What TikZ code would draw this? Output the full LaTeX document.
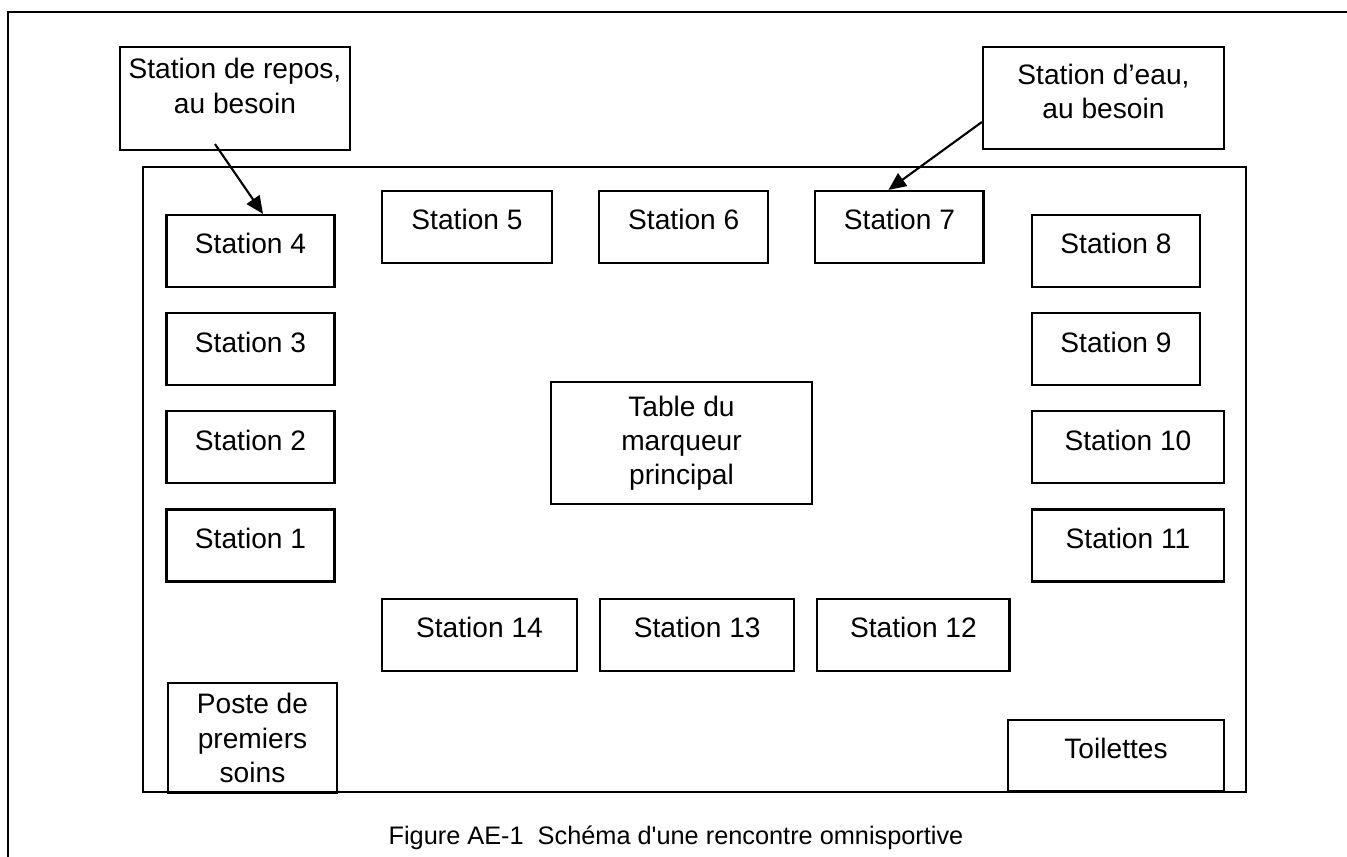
\documentclass[tikz,border=0pt]{standalone}
\usepackage{fontspec}
\setmainfont{Liberation Sans}
\usetikzlibrary{arrows.meta,positioning}

\begin{document}
\begin{tikzpicture}[
    x=0.01cm, y=-0.01cm,
    stat/.style={draw, line width=0.6pt, minimum width=1.68cm, minimum height=0.72cm,
                 inner sep=0pt, text height=6pt, text depth=4.3pt,
                 font=\fontsize{8pt}{9.5pt}\selectfont},
    note/.style={draw, line width=0.6pt, align=center, inner sep=0pt,
                 font=\fontsize{8pt}{9.7pt}\selectfont},
    frame/.style={line width=0.75pt},
    arr/.style={-{Triangle[length=5pt,width=4.4pt]}, line width=0.6pt}
  ]
  \useasboundingbox (0,0) rectangle (1347,857);
  % page frame
  \draw[frame] (1347,12) -- (8,12) -- (8,857);
  % hall
  \draw[frame] (143,167) rectangle (1246,792);

  % Rest and water
  \node[note, minimum width=2.3cm, minimum height=1.03cm, text depth=7.2pt] (repos) at (235,98.5) {Station de repos,\\au besoin};
  \node[note, minimum width=2.41cm, minimum height=1.02cm, text depth=3.7pt] (eau) at (1103.5,98) {Station d’eau,\\au besoin};

  % Left column
  \node[stat] (st4) at (250.5,251) {Station 4};
  \node[stat, below=0.24cm of st4] (st3) {Station 3};
  \node[stat, below=0.24cm of st3] (st2) {Station 2};
  \node[stat, below=0.24cm of st2] (st1) {Station 1};

  % Top row
  \node[stat, minimum width=1.7cm] (st5) at (467,227) {Station 5};
  \node[stat, minimum width=1.69cm, right=0.45cm of st5] (st6) {Station 6};
  \node[stat, right=0.45cm of st6] (st7) {Station 7};

  % Right column
  \node[stat] (st8) at (1116,251) {Station 8};
  \node[stat, below=0.24cm of st8] (st9) {Station 9};
  \node[stat, minimum width=1.92cm, below=0.24cm of st9.south west, anchor=north west] (st10) {Station 10};
  \node[stat, minimum width=1.92cm, below=0.24cm of st10] (st11) {Station 11};

  % Bottom row
  \node[stat, minimum width=1.95cm] (st14) at (479.5,635) {Station 14};
  \node[stat, minimum width=1.94cm, right=0.21cm of st14] (st13) {Station 13};
  \node[stat, minimum width=1.92cm, right=0.21cm of st13] (st12) {Station 12};

  % Head scorer
  \node[note, minimum width=2.61cm, minimum height=1.22cm] (table) at (681.5,443) {Table du\\marqueur\\principal};

  % First aid and toilets
  \node[note, minimum width=1.69cm, minimum height=1.1cm] (poste) at (252.5,738) {Poste de\\premiers\\soins};
  \node[stat, minimum width=2.16cm, minimum height=0.71cm] (wc) at (1116,755.5) {Toilettes};

  \draw[arr] ([xshift=-0.2cm,yshift=0.07cm]repos.south) -- ([xshift=0.125cm]st4.north);
  \draw[arr] ([yshift=-0.24cm]eau.west) -- ([xshift=-0.11cm]st7.north);

  % Caption
  \node[font=\fontsize{7.2pt}{8.6pt}\selectfont] (caption) at (676,838) {Figure AE-1\ \ Schéma d\textquotesingle une rencontre omnisportive};
\end{tikzpicture}
\end{document}
